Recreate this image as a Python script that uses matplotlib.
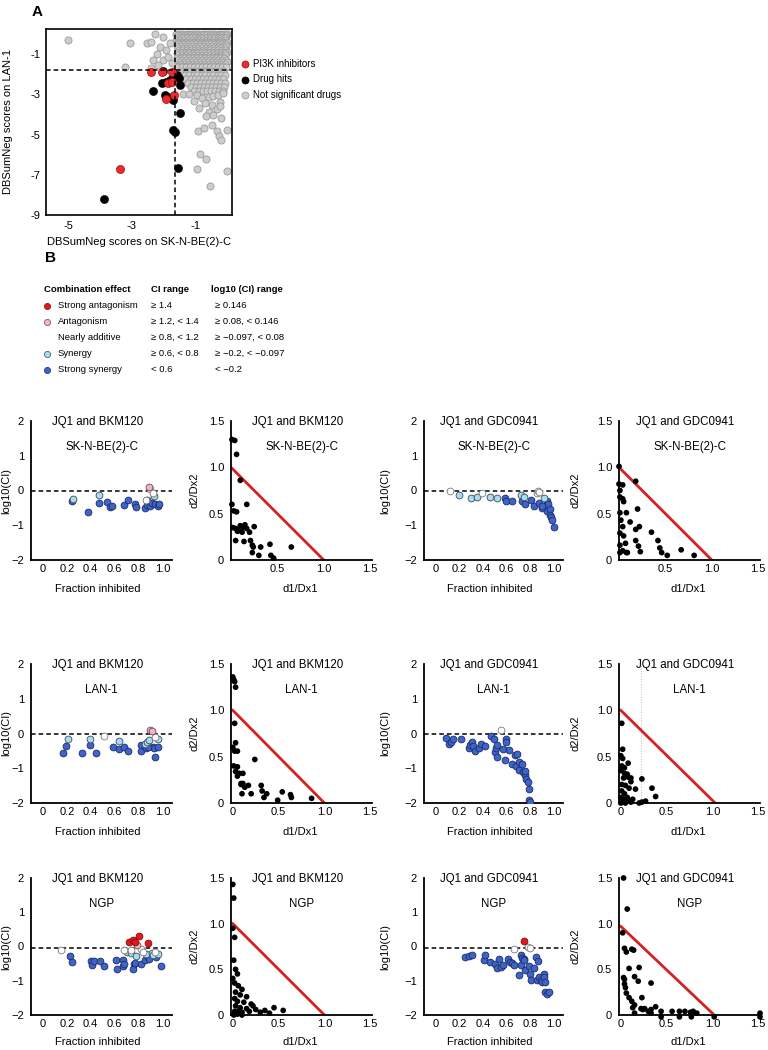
import matplotlib
matplotlib.use('Agg')
import matplotlib.pyplot as plt

plt.rcParams['font.family'] = ['Liberation Sans', 'DejaVu Sans']
plt.rcParams['font.size'] = 8
plt.rcParams['axes.unicode_minus'] = True

# ---------------- Panel A data ----------------
# non-significant drugs, listed in rows of similar LAN-1 score
gray_rows = [
    (0.0,  [-1.62,-1.52,-1.42,-1.32,-1.22,-1.12,-1.02,-0.92,-0.82,-0.72,-0.62,-0.52,-0.42,-0.32,-0.22,-0.12,-0.02]),
    (-0.07,[-1.57,-1.47,-1.37,-1.27,-1.17,-1.07,-0.97,-0.87,-0.77,-0.67,-0.57,-0.47,-0.37,-0.27,-0.17,-0.07]),
    (-0.15,[-1.57,-1.45,-1.33,-1.2,-1.08,-0.97,-0.86,-0.74,-0.6,-0.5,-0.38,-0.27,-0.16,-0.05]),
    (-0.22,[-1.51,-1.39,-1.27,-1.14,-1.02,-0.91,-0.8,-0.68,-0.55,-0.44,-0.32,-0.21,-0.1]),
    (-0.3, [-1.62,-1.5,-1.38,-1.25,-1.12,-1.0,-0.9,-0.78,-0.66,-0.55,-0.43,-0.3,-0.2,-0.08]),
    (-0.38,[-1.56,-1.44,-1.31,-1.18,-1.06,-0.95,-0.84,-0.72,-0.6,-0.49,-0.37,-0.25,-0.14,-0.03]),
    (-0.45,[-1.55,-1.42,-1.3,-1.18,-1.05,-0.93,-0.82,-0.7,-0.58,-0.46,-0.35,-0.24,-0.12]),
    (-0.52,[-1.6,-1.48,-1.36,-1.24,-1.12,-0.99,-0.87,-0.76,-0.64,-0.52,-0.41,-0.3,-0.18,-0.06]),
    (-0.6, [-1.6,-1.47,-1.35,-1.22,-1.1,-0.98,-0.86,-0.74,-0.62,-0.5,-0.38,-0.27,-0.15,-0.05]),
    (-0.69,[-1.55,-1.41,-1.29,-1.16,-1.04,-0.92,-0.8,-0.68,-0.56,-0.44,-0.32,-0.21,-0.1]),
    (-0.78,[-1.52,-1.4,-1.28,-1.15,-1.03,-0.9,-0.78,-0.66,-0.55,-0.43,-0.3,-0.18,-0.08]),
    (-0.87,[-1.5,-1.38,-1.26,-1.13,-1.01,-0.89,-0.77,-0.64,-0.52,-0.4,-0.28,-0.16,-0.04]),
    (-0.95,[-1.58,-1.45,-1.32,-1.2,-1.07,-0.95,-0.83,-0.7,-0.58,-0.46,-0.34,-0.22,-0.1]),
    (-1.04,[-1.55,-1.43,-1.31,-1.18,-1.06,-0.94,-0.81,-0.68,-0.56,-0.44,-0.32,-0.2,-0.08]),
    (-1.12,[-1.5,-1.37,-1.25,-1.12,-1.0,-0.88,-0.75,-0.62,-0.5,-0.38,-0.26,-0.14]),
    (-1.21,[-1.6,-1.48,-1.36,-1.23,-1.1,-0.97,-0.85,-0.72,-0.6,-0.48,-0.36,-0.24,-0.12]),
    (-1.3, [-1.55,-1.42,-1.3,-1.17,-1.05,-0.92,-0.8,-0.67,-0.55,-0.42,-0.3,-0.18,-0.06]),
    (-1.39,[-1.5,-1.38,-1.25,-1.12,-1.0,-0.87,-0.75,-0.63,-0.5,-0.38,-0.26,-0.14,-0.03]),
    (-1.48,[-1.48,-1.35,-1.22,-1.1,-0.97,-0.85,-0.72,-0.6,-0.47,-0.35,-0.22,-0.1]),
    (-1.57,[-1.55,-1.42,-1.29,-1.16,-1.03,-0.9,-0.78,-0.65,-0.52,-0.39,-0.27,-0.14]),
    (-1.65,[-1.6,-1.45,-1.3,-1.18,-1.05,-0.92,-0.8,-0.67,-0.55,-0.42,-0.3,-0.17,-0.05]),
    (-1.85,[-1.4,-1.27,-1.15,-1.02,-0.9,-0.77,-0.65,-0.52,-0.4,-0.27,-0.15]),
    (-2.05,[-1.45,-1.35,-1.2,-1.07,-0.95,-0.82,-0.7,-0.57,-0.45,-0.32,-0.2,-0.08]),
    (-2.25,[-1.3,-1.15,-1.02,-0.9,-0.77,-0.65,-0.52,-0.4,-0.27,-0.15]),
    (-2.45,[-1.25,-1.1,-0.97,-0.85,-0.72,-0.6,-0.47,-0.35,-0.22,-0.1]),
    (-2.65,[-1.15,-1.0,-0.88,-0.75,-0.62,-0.5,-0.37,-0.25,-0.12]),
    (-2.85,[-1.05,-0.9,-0.78,-0.65,-0.52,-0.4,-0.28,-0.15]),
]
gray_extra_x = [-1.4,-1.2,-0.95,-0.8,-0.6,-0.45,-0.3,-0.15,-1.05,-0.7,-0.5,-0.25,-0.9,-0.35,-0.6,
                -0.93,-0.875,-0.75,-0.46,-0.22,-0.35,-0.04,-0.28,-0.67,-0.95,-0.04,-0.56,-0.2,-0.51,-0.67,-0.25,
                -4.99,-3.06,-3.22,-2.54,-2.39,-2.28,-2.12,-2.23,-2.02,-1.92,-1.86,-1.81,-2.33,-2.18,-2.39,-2.02,-1.76]
gray_extra_y = [-3.0,-3.0,-3.05,-3.2,-3.15,-3.1,-3.05,-2.95,-3.35,-3.45,-3.55,-3.4,-3.7,-3.75,-3.9,
                -4.84,-5.99,-4.67,-4.01,-4.18,-4.84,-4.75,-5.08,-6.2,-6.73,-6.81,-7.55,-5.25,-4.51,-4.09,-3.6,
                -0.28,-0.47,-1.66,-0.44,-0.39,0.02,-0.64,-0.97,-1.30,-0.80,-1.13,-0.47,-1.30,-1.54,-1.71,-0.14,-1.46]
hit_x = [-2.35,-2.02,-2.05,-1.92,-1.81,-1.71,-1.60,-1.53,-1.50,-1.97,-1.86,-1.71,-1.50,-1.71,-1.64,-1.55,-3.86]
hit_y = [-2.81,-1.82,-2.45,-2.37,-2.28,-2.12,-2.04,-2.20,-2.53,-3.02,-3.11,-3.27,-3.93,-4.75,-4.88,-6.65,-8.21]
pi3k_x = [-2.42,-2.07,-1.74,-1.86,-1.76,-1.94,-1.69,-3.38]
pi3k_y = [-1.91,-1.91,-1.87,-2.45,-2.37,-3.24,-3.02,-6.73]
thr_x, thr_y = -1.66, -1.8

gray_x = [x for y, xs in gray_rows for x in xs] + gray_extra_x
gray_y = [y for y, xs in gray_rows for x in xs] + gray_extra_y

# ---------------- Panel B data ----------------
# effect codes: B strong synergy, L synergy, N nearly additive, P antagonism, R strong antagonism
r1c1_frac = [0.24,0.25,0.38,0.47,0.47,0.54,0.56,0.58,0.68,0.71,0.77,0.78,0.85,0.86,0.87,0.87,0.89,0.90,0.90,0.91,0.92,0.93,0.94,0.96,0.97]
r1c1_logci = [-0.31,-0.24,-0.62,-0.14,-0.36,-0.34,-0.48,-0.45,-0.41,-0.26,-0.38,-0.47,-0.50,-0.26,-0.28,-0.43,0.10,0.03,-0.45,-0.36,-0.07,-0.15,-0.38,-0.45,-0.40]
r1c1_eff = "BLBLBBBBBBBBBNBBPNBBNLBBB"

r1c3_frac = [0.12,0.20,0.30,0.35,0.39,0.46,0.52,0.59,0.60,0.65,0.72,0.73,0.75,0.76,0.81,0.83,0.86,0.87,0.88,0.88,0.90,0.92,0.94,0.95,0.94,0.97,0.97,0.98,0.99,1.00,0.90]
r1c3_logci = [0.0,-0.13,-0.23,-0.19,-0.07,-0.19,-0.23,-0.23,-0.31,-0.29,-0.13,-0.29,-0.19,-0.40,-0.26,-0.45,-0.07,0.0,-0.04,-0.36,-0.50,-0.21,-0.31,-0.38,-0.60,-0.52,-0.71,-0.77,-0.84,-1.06,-0.45]
r1c3_eff = "NLLLNLLBBBLBLBBBNNNBBLBBBBBBBBB"

r2c1_frac = [0.17,0.19,0.21,0.33,0.39,0.39,0.44,0.51,0.59,0.64,0.64,0.68,0.71,0.82,0.82,0.85,0.86,0.87,0.89,0.90,0.91,0.92,0.94,0.93,0.94,0.96,0.96,0.88]
r2c1_logci = [-0.56,-0.36,-0.17,-0.55,-0.33,-0.17,-0.55,-0.08,-0.38,-0.21,-0.45,-0.38,-0.50,-0.33,-0.51,-0.29,-0.43,-0.24,-0.19,0.10,0.08,-0.38,-0.10,-0.43,-0.69,-0.17,-0.40,-0.38]
r2c1_eff = "BBLBBLBNBLBBBBBLBLLPPBNBBLBB"

r2c3_frac = [0.09,0.11,0.13,0.15,0.21,0.28,0.29,0.31,0.32,0.33,0.37,0.38,0.42,0.47,0.49,0.50,0.51,0.52,0.52,0.55,0.57,0.60,0.60,0.62,0.59,0.67,0.69,0.65,0.68,0.71,0.71,0.74,0.76,0.76,0.77,0.78,0.79,0.79,0.80,0.73]
r2c3_logci = [-0.14,-0.29,-0.24,-0.17,-0.17,-0.41,-0.32,-0.24,-0.36,-0.51,-0.43,-0.29,-0.36,-0.08,-0.17,-0.53,-0.43,-0.32,-0.67,0.10,-0.46,-0.16,-0.24,-0.48,-0.75,-0.63,-0.58,-0.89,-0.93,-0.82,-1.04,-1.11,-1.20,-1.09,-1.31,-1.39,-1.61,-1.92,-1.97,-0.89]
r2c3_eff = "BBBBBBBBBBBBBBBBBBBNBBBBBBBBBBBBBBBBBBBB"

r3c1_frac = [0.15,0.23,0.24,0.40,0.41,0.43,0.48,0.51,0.61,0.62,0.67,0.67,0.68,0.68,0.70,0.72,0.74,0.75,0.76,0.75,0.77,0.77,0.78,0.79,0.80,0.82,0.82,0.84,0.85,0.86,0.88,0.88,0.89,0.91,0.92,0.94,0.95,0.96,0.99,0.74]
r3c1_logci = [-0.10,-0.29,-0.46,-0.41,-0.53,-0.43,-0.41,-0.56,-0.39,-0.65,-0.39,-0.58,-0.51,-0.10,-0.15,0.13,-0.19,0.19,-0.51,-0.65,0.13,-0.48,-0.29,0.04,0.31,-0.51,-0.06,-0.15,-0.38,-0.22,0.11,-0.32,-0.36,-0.19,-0.24,-0.15,-0.32,-0.22,-0.57,-0.10]
r3c1_eff = "NBBBBBBBBBBBBNLRLRBBRBLPRBNNBLRBBLLNBLBN"

r3c3_frac = [0.25,0.28,0.31,0.41,0.42,0.46,0.50,0.52,0.54,0.55,0.57,0.61,0.63,0.65,0.66,0.66,0.71,0.72,0.73,0.72,0.75,0.75,0.76,0.78,0.80,0.79,0.80,0.81,0.83,0.85,0.86,0.87,0.88,0.89,0.90,0.92,0.92,0.93,0.93,0.94,0.96,0.75]
r3c3_logci = [-0.30,-0.28,-0.25,-0.39,-0.25,-0.46,-0.52,-0.62,-0.37,-0.59,-0.54,-0.37,-0.44,-0.47,-0.54,-0.08,-0.84,-0.25,-0.34,-0.54,0.15,-0.37,-0.69,-0.02,-0.05,-0.57,-0.79,-0.99,-0.64,-0.30,-0.99,-0.42,-0.89,-0.99,-1.05,-0.79,-0.89,-1.03,-1.33,-1.38,-1.33,-0.39]
r3c3_eff = "BBBBBBBBBBBBBBBNBBBBRBBNNBBBBBBBBBBBBBBBBB"

r1c2_d1 = [0.01,0.04,0.06,0.10,0.01,0.03,0.06,0.17,0.02,0.05,0.07,0.10,0.13,0.15,0.17,0.20,0.25,0.05,0.14,0.21,0.23,0.24,0.23,0.32,0.30,0.42,0.43,0.46,0.65,0.08,0.12]
r1c2_d2 = [1.30,1.29,1.14,0.86,0.60,0.53,0.52,0.60,0.35,0.34,0.31,0.37,0.35,0.38,0.34,0.30,0.36,0.21,0.20,0.21,0.16,0.14,0.08,0.14,0.05,0.17,0.05,0.02,0.14,0.32,0.30]

r1c4_d1 = [0.0,0.0,0.04,0.01,0.01,0.04,0.05,0.18,0.20,0.01,0.08,0.02,0.04,0.12,0.18,0.22,0.35,0.01,0.05,0.18,0.21,0.23,0.42,0.44,0.46,0.52,0.67,0.81,0.01,0.07,0.08,0.01,0.04,0.09]
r1c4_d2 = [1.01,0.82,0.81,0.75,0.68,0.66,0.63,0.85,0.55,0.51,0.51,0.43,0.36,0.41,0.33,0.36,0.30,0.29,0.26,0.21,0.15,0.09,0.21,0.13,0.08,0.05,0.11,0.05,0.16,0.18,0.08,0.08,0.10,0.08]

r2c2_d1 = [0.0,0.01,0.02,0.03,0.02,0.0,0.03,0.02,0.05,0.24,0.01,0.05,0.03,0.07,0.11,0.05,0.09,0.11,0.13,0.17,0.10,0.20,0.31,0.32,0.37,0.34,0.49,0.54,0.63,0.64,0.86,0.09]
r2c2_d2 = [1.36,1.33,1.31,1.25,0.86,0.60,0.65,0.56,0.56,0.47,0.40,0.39,0.34,0.32,0.32,0.29,0.21,0.21,0.17,0.19,0.10,0.10,0.19,0.13,0.10,0.06,0.03,0.12,0.09,0.06,0.05,0.20]

r2c4_d1 = [0.01,0.02,0.0,0.02,0.08,0.01,0.04,0.0,0.04,0.07,0.03,0.08,0.11,0.11,0.23,0.01,0.05,0.09,0.16,0.34,0.38,0.01,0.04,0.0,0.03,0.07,0.09,0.13,0.0,0.05,0.11,0.20,0.23,0.27,0.02]
r2c4_d2 = [0.86,0.58,0.51,0.48,0.43,0.40,0.38,0.35,0.32,0.31,0.27,0.28,0.27,0.23,0.26,0.20,0.19,0.16,0.15,0.16,0.07,0.13,0.10,0.06,0.04,0.06,0.03,0.04,0.0,0.0,0.01,0.0,0.01,0.02,0.01]

r3c2_d1 = [0.0,0.01,0.0,0.02,0.01,0.03,0.05,0.0,0.02,0.06,0.10,0.03,0.08,0.15,0.02,0.05,0.12,0.20,0.03,0.08,0.15,0.25,0.35,0.02,0.10,0.40,0.30,0.05,0.01,0.18,0.45,0.55,0.22,0.07,0.10]
r3c2_d2 = [1.43,1.28,0.95,0.85,0.60,0.50,0.45,0.40,0.35,0.32,0.28,0.25,0.22,0.20,0.18,0.15,0.14,0.12,0.10,0.08,0.07,0.06,0.05,0.04,0.03,0.02,0.03,0.01,0.0,0.04,0.08,0.05,0.10,0.05,0.0]

r3c4_d1 = [0.03,0.07,0.02,0.04,0.06,0.12,0.14,0.09,0.20,0.15,0.19,0.03,0.04,0.04,0.05,0.33,0.06,0.09,0.12,0.15,0.23,0.13,0.22,0.24,0.26,0.30,0.33,0.38,0.44,0.33,0.44,0.56,0.64,0.64,0.70,0.76,0.77,0.79,0.83,1.02,1.52,1.52,0.15]
r3c4_d2 = [1.50,1.16,0.90,0.73,0.69,0.72,0.71,0.51,0.52,0.42,0.37,0.41,0.39,0.34,0.30,0.35,0.24,0.19,0.15,0.11,0.19,0.08,0.07,0.06,0.07,0.04,0.06,0.09,0.04,0.02,-0.02,0.04,0.04,-0.02,0.04,0.03,-0.02,0.04,0.02,-0.02,0.02,-0.02,0.02]

drug_titles = ["JQ1 and BKM120", "JQ1 and BKM120", "JQ1 and GDC0941", "JQ1 and GDC0941"]
cell_lines = ["SK-N-BE(2)-C", "LAN-1", "NGP"]
# additive (isobole) line intercepts: (d1 intercept, d2 intercept)
iso_lines = {(0, 1): (1.0, 1.0), (0, 3): (1.0, 1.0), (1, 1): (1.0, 1.0), (1, 3): (1.03, 1.0),
             (2, 1): (1.0, 1.0), (2, 3): (1.02, 0.97)}

legend_rows = [("Strong antagonism", "\u2265 1.4", "\u2265 0.146"),
               ("Antagonism", "\u2265 1.2, < 1.4", "\u2265 0.08, < 0.146"),
               ("Nearly additive", "\u2265 0.8, < 1.2", "\u2265 \u22120.097, < 0.08"),
               ("Synergy", "\u2265 0.6, < 0.8", "\u2265 \u22120.2, < \u22120.097"),
               ("Strong synergy", "< 0.6", "< \u22120.2")]

# ---------------- styles ----------------
EFF_STYLE = {'B': ('#3f64c9', '#1a2a66'), 'L': ('#a9dcef', '#3a4a55'), 'N': ('#ffffff', '#777777'),
             'P': ('#f3b4c3', '#6a4a50'), 'R': ('#e8161b', '#7a1010')}
LEG_EFF = ['R', 'P', None, 'L', 'B']

W, H = 768, 1050
fig = plt.figure(figsize=(W / 100, H / 100), dpi=100)

def ax_px(l, t, r, b):
    return fig.add_axes([l / W, 1 - b / H, (r - l) / W, (b - t) / H])

ov = fig.add_axes([0, 0, 1, 1], zorder=-1)
ov.set_xlim(0, W); ov.set_ylim(H, 0); ov.axis('off')

# ---------------- Panel A ----------------
axA = ax_px(46, 29, 232, 215)
axA.scatter(gray_x, gray_y, s=26, c='#cdcdcd', edgecolors='#9a9a9a', linewidths=0.6, zorder=2)
axA.scatter(hit_x, hit_y, s=34, c='black', edgecolors='black', linewidths=0.4, zorder=3)
axA.scatter(pi3k_x, pi3k_y, s=34, c='#ec2b2e', edgecolors='#a01010', linewidths=0.5, zorder=4)
axA.axhline(thr_y, ls=(0, (3, 2)), color='black', lw=1.1, zorder=5)
axA.axvline(thr_x, ls=(0, (3, 2)), color='black', lw=1.1, zorder=5)
axA.set_xlim(-5.69, 0.13)
axA.set_ylim(-9, 0.25)
axA.set_xticks([-5, -3, -1])
axA.set_xticklabels(['-5', '-3', '-1'])
axA.set_yticks([-1, -3, -5, -7, -9])
axA.set_yticklabels(['-1', '-3', '-5', '-7', '-9'])
axA.tick_params(length=0, pad=4, labelsize=8)
for sp in axA.spines.values():
    sp.set_linewidth(1.2)
axA.set_xlabel("DBSumNeg scores on SK-N-BE(2)-C", fontsize=8)
axA.set_ylabel("DBSumNeg scores on LAN-1", fontsize=8)
axA.xaxis.set_label_coords(0.5, -0.12)
axA.yaxis.set_label_coords(-0.18, 0.5)

fig.text(32 / W, 1 - 12 / H, "A", fontsize=11, fontweight='bold', va='center', ha='left')
leg_items = [('#ec2b2e', '#a01010', "PI3K inhibitors"), ('black', 'black', "Drug hits"),
             ('#cdcdcd', '#9a9a9a', "Not significant drugs")]
for i, (fc, ec, lab) in enumerate(leg_items):
    yy = 64 + i * 15.5
    ov.scatter([245], [yy], s=26, c=fc, edgecolors=ec, linewidths=0.5)
    ov.text(253, yy, lab, fontsize=7, va='center', ha='left')

# ---------------- Panel B legend ----------------
fig.text(45 / W, 1 - 258 / H, "B", fontsize=11, fontweight='bold', va='center', ha='left')
ov.text(44, 289, "Combination effect", fontsize=6.8, fontweight='bold', va='center')
ov.text(151, 289, "CI range", fontsize=6.8, fontweight='bold', va='center')
ov.text(211, 289, "log10 (CI) range", fontsize=6.8, fontweight='bold', va='center')
for i, (name, ci, lci) in enumerate(legend_rows):
    yy = 305 + i * 16
    e = LEG_EFF[i]
    if e is not None:
        fc, ec = EFF_STYLE[e]
        ov.scatter([47], [yy + 1], s=20, c=fc, edgecolors=ec, linewidths=0.5)
    ov.text(58, yy, name, fontsize=6.8, va='center')
    ov.text(151, yy, ci, fontsize=6.8, va='center')
    ov.text(215, yy, lci, fontsize=6.8, va='center')

# ---------------- Panel B small multiples ----------------
cols = [(31, 172), (231, 372), (424, 563), (619, 760)]
rows = [(421, 560), (664, 803), (878, 1015)]

log_data = {(0, 0): (r1c1_frac, r1c1_logci, r1c1_eff), (0, 2): (r1c3_frac, r1c3_logci, r1c3_eff),
            (1, 0): (r2c1_frac, r2c1_logci, r2c1_eff), (1, 2): (r2c3_frac, r2c3_logci, r2c3_eff),
            (2, 0): (r3c1_frac, r3c1_logci, r3c1_eff), (2, 2): (r3c3_frac, r3c3_logci, r3c3_eff)}
iso_data = {(0, 1): (r1c2_d1, r1c2_d2), (0, 3): (r1c4_d1, r1c4_d2),
            (1, 1): (r2c2_d1, r2c2_d2), (1, 3): (r2c4_d1, r2c4_d2),
            (2, 1): (r3c2_d1, r3c2_d2), (2, 3): (r3c4_d1, r3c4_d2)}

def style_axes(ax):
    for s in ['top', 'right']:
        ax.spines[s].set_visible(False)
    for s in ['left', 'bottom']:
        ax.spines[s].set_linewidth(1.3)
    ax.tick_params(length=0, labelsize=8)
    ax.tick_params(axis='x', pad=3)
    ax.tick_params(axis='y', pad=5)

for ri, (t, b) in enumerate(rows):
    xl_y = -0.175 if ri < 2 else -0.16
    for ci, (l, r) in enumerate(cols):
        ax = ax_px(l, t, r, b)
        style_axes(ax)
        if ci in (0, 2):
            fr, lc, ef = log_data[(ri, ci)]
            ax.axhline(0 if ri < 2 else -0.03, color='black', ls=(0, (3, 2)), lw=1.1, zorder=1)
            for code in "BLNPR":
                xs = [f for f, e in zip(fr, ef) if e == code]
                ys = [v for v, e in zip(lc, ef) if e == code]
                if xs:
                    fc, ec = EFF_STYLE[code]
                    ax.scatter(xs, ys, s=24, c=fc, edgecolors=ec, linewidths=0.6, zorder=3)
            ax.set_xlim(-0.1, 1.08)
            ax.set_ylim(-2, 2)
            ax.set_xticks([0, 0.2, 0.4, 0.6, 0.8, 1.0])
            ax.set_xticklabels(['0', '0.2', '0.4', '0.6', '0.8', '1.0'])
            ax.set_yticks([-2, -1, 0, 1, 2])
            ax.set_yticklabels(['\u22122', '\u22121', '0', '1', '2'])
            ax.set_xlabel("Fraction inhibited", fontsize=8)
            ax.set_ylabel("log10(CI)", fontsize=8)
            ax.xaxis.set_label_coords(0.47, xl_y)
            ax.yaxis.set_label_coords(-0.14 if ci == 0 else -0.24, 0.5)
        else:
            d1, d2 = iso_data[(ri, ci)]
            ix, iy = iso_lines[(ri, ci)]
            if (ri, ci) == (1, 3):
                ax.plot([0.22, 0.22], [0, 1.5], color='#bbbbbb', ls=':', lw=0.7, zorder=1)
            ax.plot([0, ix], [iy, 0], color='#d42222', lw=2.0, zorder=2)
            ax.scatter(d1, d2, s=17, c='black', edgecolors='none', zorder=3, clip_on=False)
            x0 = 0 if ri == 0 else -0.02
            ax.set_xlim(x0, 1.52)
            ax.set_ylim(0, 1.5)
            if ri == 0:
                ax.set_xticks([0.5, 1.0, 1.5])
                ax.set_xticklabels(['0.5', '1.0', '1.5'])
            else:
                ax.set_xticks([0, 0.5, 1.0, 1.5])
                ax.set_xticklabels(['0', '0.5', '1.0', '1.5'])
            ax.set_yticks([0, 0.5, 1.0, 1.5])
            ax.set_yticklabels(['0', '0.5', '1.0', '1.5'])
            ax.set_xlabel("d1/Dx1", fontsize=8)
            ax.set_ylabel("d2/Dx2", fontsize=8)
            ax.xaxis.set_label_coords(0.49, xl_y)
            ax.yaxis.set_label_coords(-0.22 if ci == 1 else -0.27, 0.5)
        ax.text(0.47, 0.99, drug_titles[ci], transform=ax.transAxes, ha='center', va='center', fontsize=8.3)
        ax.text(0.5, 0.81, cell_lines[ri], transform=ax.transAxes, ha='center', va='center', fontsize=8.3)

fig.savefig("out.png", dpi=100)
